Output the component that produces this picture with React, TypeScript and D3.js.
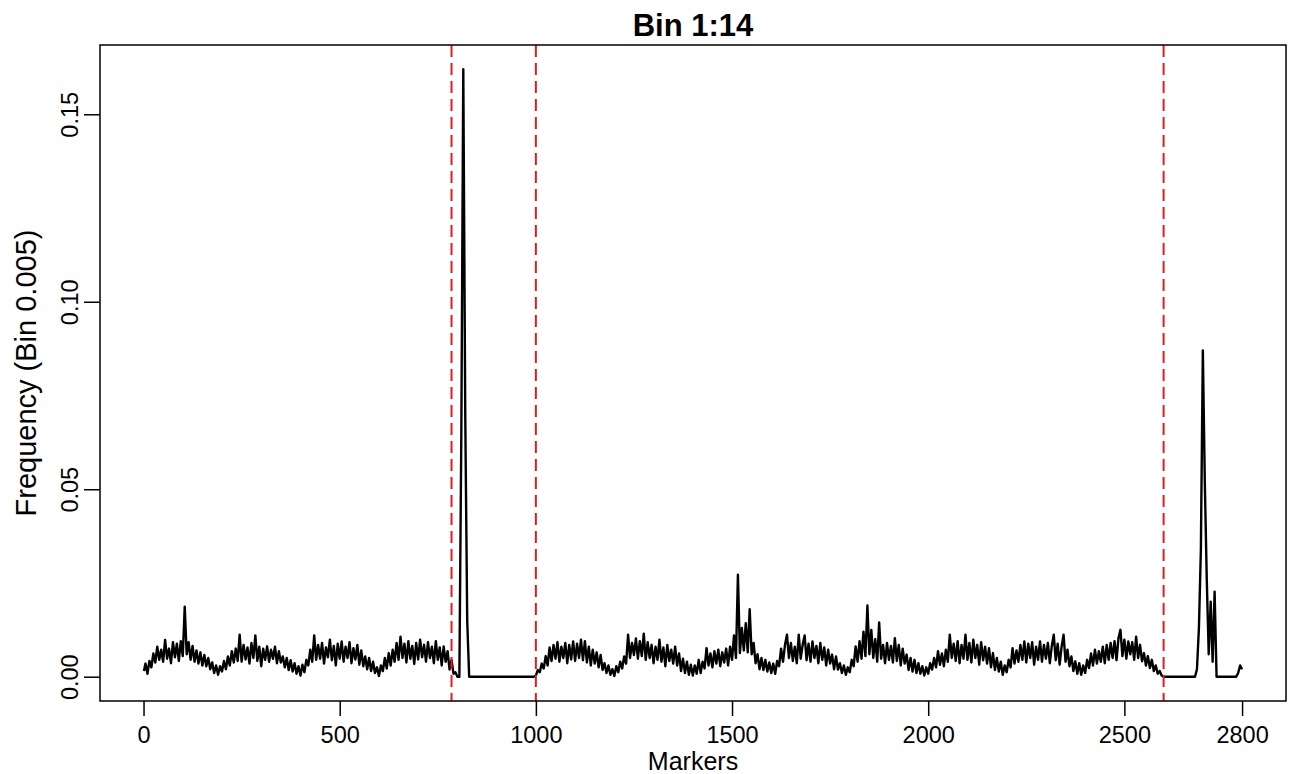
import { useEffect, useRef } from "react";
import * as d3 from "d3";

// frequency per marker, sampled every 5 markers (0, 5, 10, ...)
const markerStep = 5;

// markers 0 - 795 (before first cutoff)
const freqLeft = [
  0.0015, 0.0035, 0.0008, 0.0042, 0.0025, 0.0062, 0.0038, 0.008, 0.0045, 0.0072, 0.004, 0.0098, 0.0048, 0.0075, 0.0036, 0.0092, 0.0052, 0.0088, 0.0042, 0.0095,
  0.0055, 0.0187, 0.006, 0.0092, 0.0045, 0.0082, 0.004, 0.007, 0.0035, 0.0065, 0.003, 0.0058, 0.0028, 0.005, 0.002, 0.0038, 0.001, 0.003, 0.0005, 0.0028,
  0.0014, 0.0042, 0.002, 0.0054, 0.003, 0.0068, 0.0038, 0.0075, 0.0042, 0.0112, 0.004, 0.0085, 0.0046, 0.0078, 0.0035, 0.009, 0.005, 0.011, 0.0042, 0.008,
  0.0028, 0.0075, 0.0045, 0.0081, 0.004, 0.0072, 0.0048, 0.008, 0.0036, 0.0068, 0.0038, 0.0054, 0.0025, 0.005, 0.0018, 0.0044, 0.0014, 0.0036, 0.0008, 0.0028,
  0.0003, 0.0032, 0.0012, 0.0045, 0.003, 0.0072, 0.004, 0.011, 0.0045, 0.0085, 0.0048, 0.009, 0.0035, 0.0078, 0.0052, 0.0099, 0.0044, 0.0082, 0.003, 0.0088,
  0.0048, 0.0094, 0.004, 0.008, 0.005, 0.0092, 0.0036, 0.0076, 0.0046, 0.0085, 0.0032, 0.007, 0.0028, 0.0054, 0.002, 0.005, 0.0015, 0.004, 0.001, 0.0025,
  0.0002, 0.003, 0.0015, 0.005, 0.0022, 0.0063, 0.003, 0.0072, 0.004, 0.009, 0.0045, 0.0107, 0.005, 0.0088, 0.0038, 0.0095, 0.0048, 0.0082, 0.0034, 0.009,
  0.0046, 0.0099, 0.0052, 0.0085, 0.004, 0.0092, 0.005, 0.008, 0.0036, 0.0095, 0.0045, 0.0078, 0.003, 0.0081, 0.004, 0.0068, 0.0019, 0.0045, 0.0008, 0.0012,
];

// markers 800 - 995 (big peak, then empty)
const freqGap = [
  0, 0, 0.065, 0.162, 0.07, 0.015, 0, 0, 0, 0, 0, 0, 0, 0, 0, 0, 0, 0, 0, 0,
  0, 0, 0, 0, 0, 0, 0, 0, 0, 0, 0, 0, 0, 0, 0, 0, 0, 0, 0, 0,
];

// markers 1000 - 2595
const freqMiddle = [
  0.0003, 0.0018, 0.0012, 0.0035, 0.0022, 0.0055, 0.003, 0.0078, 0.0042, 0.0085, 0.0048, 0.0092, 0.004, 0.008, 0.005, 0.009, 0.0036, 0.0085, 0.0046, 0.0094,
  0.0042, 0.0088, 0.005, 0.0099, 0.0044, 0.0095, 0.0038, 0.008, 0.003, 0.0072, 0.0035, 0.0065, 0.0025, 0.0058, 0.0018, 0.0036, 0.001, 0.003, 0.0005, 0.002,
  0.0002, 0.0028, 0.0012, 0.004, 0.0022, 0.0054, 0.0035, 0.0112, 0.005, 0.009, 0.0058, 0.0102, 0.0048, 0.0095, 0.0055, 0.0115, 0.0045, 0.0092, 0.005, 0.0085,
  0.0036, 0.008, 0.0045, 0.0099, 0.004, 0.0078, 0.0028, 0.0085, 0.0042, 0.0072, 0.0035, 0.008, 0.003, 0.0062, 0.0015, 0.0048, 0.001, 0.004, 0.0005, 0.0032,
  0.0003, 0.003, 0.0008, 0.0045, 0.001, 0.004, 0.0022, 0.0076, 0.003, 0.0062, 0.0025, 0.0068, 0.0035, 0.0072, 0.0028, 0.0065, 0.0038, 0.0075, 0.003, 0.008,
  0.0045, 0.011, 0.005, 0.0272, 0.0063, 0.013, 0.007, 0.0143, 0.0065, 0.018, 0.006, 0.009, 0.0036, 0.006, 0.002, 0.005, 0.0018, 0.0045, 0.0014, 0.0038,
  0.001, 0.0035, 0.0008, 0.0042, 0.0028, 0.0075, 0.004, 0.0085, 0.0112, 0.005, 0.009, 0.0042, 0.008, 0.0036, 0.0112, 0.0048, 0.0085, 0.011, 0.0044, 0.0088,
  0.004, 0.0094, 0.005, 0.0082, 0.0036, 0.009, 0.0045, 0.0078, 0.003, 0.0072, 0.0035, 0.0059, 0.002, 0.0054, 0.0019, 0.0036, 0.001, 0.003, 0.0005, 0.0025,
  0.0012, 0.0045, 0.0028, 0.0081, 0.004, 0.0095, 0.0048, 0.012, 0.0055, 0.019, 0.006, 0.0125, 0.005, 0.01, 0.004, 0.0145, 0.0048, 0.0085, 0.0036, 0.009,
  0.0045, 0.0082, 0.0038, 0.0103, 0.0042, 0.0085, 0.003, 0.0075, 0.0035, 0.0059, 0.0018, 0.005, 0.0014, 0.0045, 0.001, 0.0036, 0.0008, 0.0028, 0.0003, 0.0025,
  0.0008, 0.0036, 0.0019, 0.005, 0.0025, 0.0068, 0.0032, 0.0062, 0.0028, 0.0072, 0.004, 0.0112, 0.005, 0.0088, 0.0042, 0.0095, 0.0036, 0.0085, 0.0048, 0.0112,
  0.0045, 0.009, 0.0038, 0.0099, 0.005, 0.0085, 0.0032, 0.0092, 0.0044, 0.008, 0.0035, 0.0076, 0.0025, 0.0063, 0.0018, 0.005, 0.0014, 0.004, 0.0005, 0.003,
  0.0012, 0.0045, 0.0025, 0.0076, 0.0035, 0.007, 0.004, 0.0085, 0.0045, 0.0094, 0.0038, 0.0088, 0.005, 0.0092, 0.0032, 0.008, 0.0045, 0.0094, 0.004, 0.0085,
  0.0048, 0.009, 0.0036, 0.0082, 0.0112, 0.0044, 0.0088, 0.0032, 0.008, 0.0112, 0.004, 0.0072, 0.0028, 0.0054, 0.0015, 0.0041, 0.0008, 0.0036, 0.0005, 0.003,
  0.001, 0.0045, 0.0023, 0.0062, 0.003, 0.0072, 0.0035, 0.0068, 0.004, 0.008, 0.0036, 0.0085, 0.0045, 0.009, 0.005, 0.0095, 0.0044, 0.0103, 0.0125, 0.0055,
  0.0099, 0.0048, 0.0094, 0.006, 0.0092, 0.0045, 0.0107, 0.005, 0.0085, 0.0041, 0.0063, 0.003, 0.0055, 0.0023, 0.0045, 0.0015, 0.003, 0.0008, 0.0015, 0.0003,
];

// markers 2600 - 2800
const freqRight = [
  0, 0, 0, 0, 0, 0, 0, 0, 0, 0, 0, 0, 0, 0, 0, 0, 0, 0.002, 0.013, 0.034,
  0.087, 0.052, 0.026, 0.006, 0.02, 0.004, 0.0227, 0, 0, 0, 0, 0, 0, 0, 0, 0, 0, 0, 0.001, 0.003,
  0.002,
];

const cutoffs = [785, 1000, 2600];
const xTicks = [0, 500, 1000, 1500, 2000, 2500, 2800];
const yTicks = [0, 0.05, 0.1, 0.15];
const xFirst = 1;
const xLast = 2800;

export default function App() {
  const svgRef = useRef(null);

  useEffect(() => {
    const width = 1291;
    const height = 774;
    const plot = { left: 100, right: 1286, top: 45, bottom: 701 };
    const font = "'Liberation Sans', Arial, sans-serif";

    const freq = [...freqLeft, ...freqGap, ...freqMiddle, ...freqRight];
    const data = freq.map((v, i) => ({ m: Math.max(xFirst, i * markerStep), v }));

    const svg = d3.select(svgRef.current);
    svg.selectAll("*").remove();
    svg.attr("width", width).attr("height", height).style("background", "#fff");

    // R style 4% padding on both axes
    const xPad = (xLast - xFirst) * 0.04;
    const yMax = d3.max(freq);
    const yPad = yMax * 0.04;

    const x = d3
      .scaleLinear()
      .domain([xFirst - xPad, xLast + xPad])
      .range([plot.left, plot.right]);

    const y = d3
      .scaleLinear()
      .domain([0 - yPad, yMax + yPad])
      .range([plot.bottom, plot.top]);

    // series
    const line = d3
      .line()
      .x((d) => x(d.m))
      .y((d) => y(d.v));

    svg
      .append("path")
      .datum(data)
      .attr("d", line)
      .attr("fill", "none")
      .attr("stroke", "#000")
      .attr("stroke-width", 2.4)
      .attr("stroke-linejoin", "round");

    // cutoff lines
    svg
      .selectAll("line.cut")
      .data(cutoffs)
      .enter()
      .append("line")
      .attr("class", "cut")
      .attr("x1", (d) => x(d))
      .attr("x2", (d) => x(d))
      .attr("y1", plot.top)
      .attr("y2", plot.bottom)
      .attr("stroke", "#e01e1e")
      .attr("stroke-width", 2)
      .attr("stroke-dasharray", "12,6");

    // box
    svg
      .append("rect")
      .attr("x", plot.left)
      .attr("y", plot.top)
      .attr("width", plot.right - plot.left)
      .attr("height", plot.bottom - plot.top)
      .attr("fill", "none")
      .attr("stroke", "#000")
      .attr("stroke-width", 1.5);

    // x axis
    const xAxis = svg
      .append("g")
      .attr("transform", `translate(0, ${plot.bottom})`)
      .call(d3.axisBottom(x).tickValues(xTicks).tickFormat(d3.format("d")).tickSize(15).tickSizeOuter(0));
    xAxis.select(".domain").remove();
    xAxis.selectAll("line").attr("stroke", "#000").attr("stroke-width", 1.5);
    xAxis
      .selectAll("text")
      .attr("y", 42)
      .attr("dy", 0)
      .attr("fill", "#000")
      .style("font-family", font)
      .style("font-size", "23.5px");

    // y axis
    const yAxis = svg
      .append("g")
      .attr("transform", `translate(${plot.left}, 0)`)
      .call(d3.axisLeft(y).tickValues(yTicks).tickFormat(d3.format(".2f")).tickSize(16).tickSizeOuter(0));
    yAxis.select(".domain").remove();
    yAxis.selectAll("line").attr("stroke", "#000").attr("stroke-width", 1.5);
    yAxis
      .selectAll("text")
      .attr("x", 0)
      .attr("dy", 0)
      .attr("transform", "translate(-22, 0) rotate(-90)")
      .style("text-anchor", "middle")
      .attr("fill", "#000")
      .style("font-family", font)
      .style("font-size", "23.5px");

    // titles
    svg
      .append("text")
      .attr("x", (plot.left + plot.right) / 2)
      .attr("y", 36)
      .attr("text-anchor", "middle")
      .style("font-family", font)
      .style("font-weight", "bold")
      .style("font-size", "31px")
      .text("Bin 1:14");

    svg
      .append("text")
      .attr("x", (plot.left + plot.right) / 2)
      .attr("y", 770)
      .attr("text-anchor", "middle")
      .style("font-family", font)
      .style("font-size", "25px")
      .text("Markers");

    svg
      .append("text")
      .attr("transform", `translate(36, ${(plot.top + plot.bottom) / 2}) rotate(-90)`)
      .attr("text-anchor", "middle")
      .style("font-family", font)
      .style("font-size", "29px")
      .text("Frequency (Bin 0.005)");
  }, []);

  return <svg ref={svgRef} style={{ position: "absolute", left: 0, top: 0, display: "block" }}></svg>;
}
